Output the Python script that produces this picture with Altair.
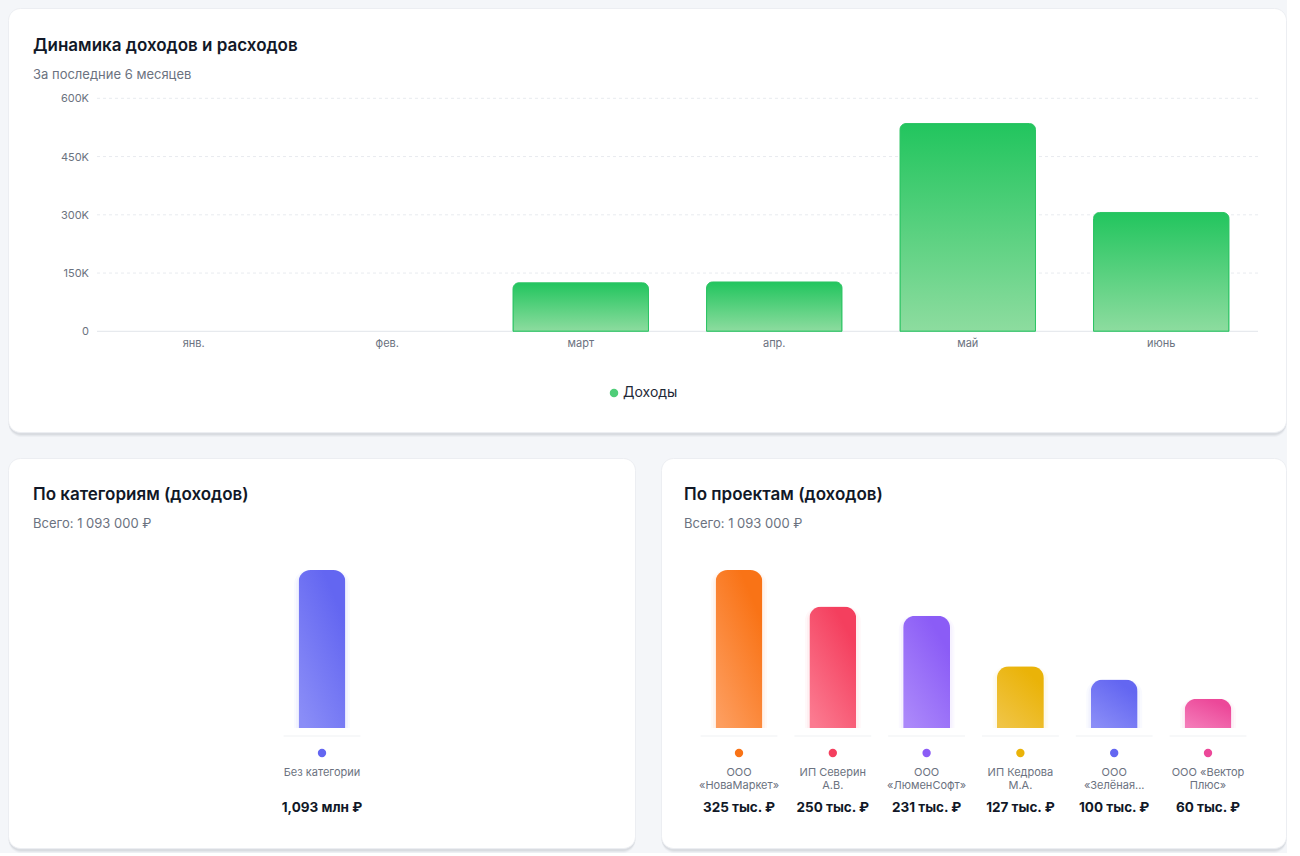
import altair as alt
import pandas as pd

# ---- data -----------------------------------------------------------------
months = ["янв.", "фев.", "март", "апр.", "май", "июнь"]
income = [0, 0, 125000, 127000, 535000, 306000]
y_ticks = [0, 150000, 300000, 450000, 600000]
y_tick_labels = ["0", "150K", "300K", "450K", "600K"]

category_names = ["Без категории"]
category_values = [1093000]
category_value_labels = ["1,093 млн ₽"]
category_colors = [("#6366f1", "#8a8df7")]

project_names = [
    "ООО\n«НоваМаркет»",
    "ИП Северин\nА.В.",
    "ООО\n«ЛюменСофт»",
    "ИП Кедрова\nМ.А.",
    "ООО\n«Зелёная...",
    "ООО «Вектор\nПлюс»",
]
project_values = [325000, 250000, 231000, 127000, 100000, 60000]
project_value_labels = ["325 тыс. ₽", "250 тыс. ₽", "231 тыс. ₽",
                        "127 тыс. ₽", "100 тыс. ₽", "60 тыс. ₽"]
project_colors = [
    ("#f97316", "#fd9d5e"),
    ("#f43f5e", "#fb7a90"),
    ("#8b5cf6", "#ab88fa"),
    ("#eab308", "#f0c445"),
    ("#6366f1", "#8a8df7"),
    ("#ec4899", "#f47ab8"),
]

FONT = "Inter"
DARK = "#111827"
MUTED = "#6b7280"
ONE = pd.DataFrame({"k": [0]})


def card_base(w, h, title, subtitle, title_y, sub_y, title_x=25):
    """White rounded card with a soft shadow, a title and a subtitle."""
    layers = []
    for off, op in [(4, 0.03), (3, 0.04), (2, 0.055)]:
        layers.append(
            alt.Chart(ONE).mark_rect(cornerRadius=13, color="#1f2937", opacity=op).encode(
                x=alt.value(0.5), x2=alt.value(w - 0.5), y=alt.value(off), y2=alt.value(h + off)
            )
        )
    layers.append(
        alt.Chart(ONE).mark_rect(cornerRadius=12, fill="white", stroke="#eceef2", strokeWidth=1).encode(
            x=alt.value(0.5), x2=alt.value(w - 0.5), y=alt.value(0.5), y2=alt.value(h - 0.5)
        )
    )
    layers.append(
        alt.Chart(ONE).mark_text(text=title, font=FONT, fontSize=17, fontWeight=600,
                                 color=DARK, align="left", baseline="middle").encode(
            x=alt.value(title_x), y=alt.value(title_y)
        )
    )
    layers.append(
        alt.Chart(ONE).mark_text(text=subtitle, font=FONT, fontSize=13, color=MUTED,
                                 align="left", baseline="middle").encode(
            x=alt.value(title_x), y=alt.value(sub_y)
        )
    )
    return layers


# ---- top card: monthly income ------------------------------------------------
TW, TH = 1279, 425
df_month = pd.DataFrame({"month": months, "value": income})
df_ticks = pd.DataFrame({"v": y_ticks, "label": y_tick_labels})

xs_top = alt.Scale(domain=months, range=[89, 1250], paddingInner=0.3, paddingOuter=0.15)
ys_top = alt.Scale(domain=[0, 600000], range=[323.3, 90.3], nice=False)

top_layers = card_base(TW, TH, "Динамика доходов и расходов", "За последние 6 месяцев", 38, 67)

grid = alt.Chart(df_ticks).transform_filter("datum.v > 0").mark_rule(
    color="#e8ebef", strokeDash=[3, 3], strokeWidth=1
).encode(y=alt.Y("v:Q", scale=ys_top, axis=None), x=alt.value(89), x2=alt.value(1250))

baseline = alt.Chart(df_ticks).transform_filter("datum.v == 0").mark_rule(
    color="#e2e5ea", strokeWidth=1
).encode(y=alt.Y("v:Q", scale=ys_top, axis=None), x=alt.value(89), x2=alt.value(1250))

tick_text = alt.Chart(df_ticks).mark_text(
    font=FONT, fontSize=11, color=MUTED, align="right", baseline="middle", dy=1
).encode(y=alt.Y("v:Q", scale=ys_top, axis=None), x=alt.value(81), text="label:N")

green = alt.Gradient(
    gradient="linear",
    stops=[alt.GradientStop(color="#22c55e", offset=0),
           alt.GradientStop(color="#8ddc9f", offset=1)],
    x1=0, x2=0, y1=0, y2=1,
)
bars_top = alt.Chart(df_month).transform_filter("datum.value > 0").mark_bar(
    color=green, stroke="#2cc463", strokeWidth=1,
    cornerRadiusTopLeft=6, cornerRadiusTopRight=6,
).encode(
    x=alt.X("month:N", scale=xs_top, axis=None),
    y=alt.Y("value:Q", scale=ys_top, axis=None),
)

month_text = alt.Chart(df_month).mark_text(
    font=FONT, fontSize=11, color=MUTED, baseline="middle"
).encode(x=alt.X("month:N", scale=xs_top, axis=None), y=alt.value(336), text="month:N")

legend_dot = alt.Chart(ONE).mark_circle(size=72, color="#4fcd78", opacity=1).encode(
    x=alt.value(606), y=alt.value(385)
)
legend_text = alt.Chart(ONE).mark_text(
    text="Доходы", font=FONT, fontSize=14, color="#1f2937", align="left", baseline="middle"
).encode(x=alt.value(615), y=alt.value(385))

top = alt.layer(
    *top_layers, grid, baseline, tick_text, bars_top, month_text, legend_dot, legend_text
).properties(width=TW, height=TH)


# ---- bottom cards: column breakdowns -------------------------------------------
BH = 391


def breakdown(w, names, values, value_labels, colors, x_range, title, subtitle, title_x):
    df = pd.DataFrame({"name": names, "value": values, "vlabel": value_labels,
                       "dot": [c[0] for c in colors]})
    xs = alt.Scale(domain=names, range=x_range, paddingInner=0, paddingOuter=0)
    ys = alt.Scale(domain=[0, max(values)], range=[270, 112], nice=False)
    X = alt.X("name:N", scale=xs, axis=None)

    layers = card_base(w, BH, title, subtitle, 37, 66, title_x)

    layers.append(
        alt.Chart(df).mark_bar(color="#eff1f4", width={"band": 0.82}).encode(
            x=X, y=alt.value(277.5), y2=alt.value(278.5)
        )
    )
    for name, (c_top, c_bot) in zip(names, colors):
        sub = alt.Chart(df).transform_filter(alt.datum.name == name)
        # soft coloured glow behind the column
        for band, op in [(0.6, 0.035), (0.555, 0.045)]:
            layers.append(
                sub.mark_bar(color=c_top, opacity=op, width={"band": band},
                             cornerRadiusTopLeft=15, cornerRadiusTopRight=15).encode(
                    x=X, y=alt.Y("value:Q", scale=ys, axis=None)
                )
            )
        grad = alt.Gradient(
            gradient="linear",
            stops=[alt.GradientStop(color=c_top, offset=0),
                   alt.GradientStop(color=c_top, offset=0.15),
                   alt.GradientStop(color=c_bot, offset=1)],
            x1=0.85, y1=0, x2=0.15, y2=1,
        )
        layers.append(
            sub.mark_bar(color=grad, width={"band": 0.5},
                         cornerRadiusTopLeft=12, cornerRadiusTopRight=12).encode(
                x=X, y=alt.Y("value:Q", scale=ys, axis=None)
            )
        )

    layers.append(
        alt.Chart(df).mark_circle(size=70, opacity=1).encode(
            x=X, y=alt.value(295), color=alt.Color("dot:N", scale=None, legend=None)
        )
    )
    layers.append(
        alt.Chart(df).mark_text(font=FONT, fontSize=11, color=MUTED, baseline="top",
                                lineBreak="\n", lineHeight=13).encode(
            x=X, y=alt.value(308.5), text="name:N"
        )
    )
    layers.append(
        alt.Chart(df).mark_text(font=FONT, fontSize=13.5, fontWeight=700, color=DARK,
                                baseline="middle").encode(
            x=X, y=alt.value(350), text="vlabel:N"
        )
    )
    return alt.layer(*layers).properties(width=w, height=BH)


left = breakdown(628, category_names, category_values, category_value_labels, category_colors,
                 [267.1, 360.9], "По категориям (доходов)", "Всего: 1 093 000 ₽", 25)
right = breakdown(626, project_names, project_values, project_value_labels, project_colors,
                  [31.1, 593.9], "По проектам (доходов)", "Всего: 1 093 000 ₽", 23)

chart = alt.vconcat(
    top,
    alt.hconcat(left, right, spacing=25, bounds="flush"),
    spacing=25,
    bounds="flush",
).properties(
    padding={"left": 8, "top": 8, "right": 0, "bottom": 0},
    background="#f4f6f9",
).configure_view(strokeWidth=0)

chart.save("out.html", embed_options={"renderer": "svg", "actions": False})
